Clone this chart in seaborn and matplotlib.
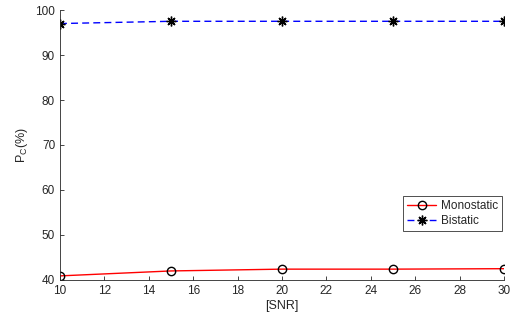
import matplotlib
matplotlib.use("Agg")
import matplotlib.pyplot as plt
import seaborn as sns
import pandas as pd

snr = [10, 15, 20, 25, 30]
monostatic = [40.9, 42.0, 42.4, 42.4, 42.5]
bistatic = [97.0, 97.5, 97.5, 97.5, 97.5]
xticks = [10, 12, 14, 16, 18, 20, 22, 24, 26, 28, 30]
yticks = [40, 50, 60, 70, 80, 90, 100]

sns.set_style("ticks")
plt.rcParams['font.family'] = ['Liberation Sans', 'DejaVu Sans']
plt.rcParams['xtick.direction'] = 'in'
plt.rcParams['ytick.direction'] = 'in'

df = pd.DataFrame({
    "SNR": snr * 2,
    "Pc": monostatic + bistatic,
    "Method": ["Monostatic"] * len(snr) + ["Bistatic"] * len(snr),
})

fig = plt.figure(figsize=(5.17, 3.24), dpi=100)
ax = fig.add_axes([0.116, 0.136, 0.859, 0.833])

sns.lineplot(data=df[df.Method == "Monostatic"], x="SNR", y="Pc", ax=ax,
             color="red", lw=1.0, marker="o", markersize=6,
             markerfacecolor="none", markeredgecolor="black", markeredgewidth=1.0,
             label="Monostatic")
sns.lineplot(data=df[df.Method == "Bistatic"], x="SNR", y="Pc", ax=ax,
             color="blue", lw=1.0, linestyle=(0, (5, 3)), marker=(8, 2, 0), markersize=7,
             markerfacecolor="black", markeredgecolor="black", markeredgewidth=1.0,
             label="Bistatic")

ax.set_xlim(10, 30)
ax.set_ylim(40, 100)
ax.set_xticks(xticks)
ax.set_yticks(yticks)
ax.tick_params(labelsize=8.5, colors="#262626", length=3, width=0.6)
for s in ["left", "bottom"]:
    ax.spines[s].set_color("#262626")
    ax.spines[s].set_linewidth(0.6)
sns.despine(ax=ax)
ax.set_xlabel("[SNR]", fontsize=9, color="#262626", labelpad=2)
ax.set_ylabel("P$_\\mathregular{C}$(%)", fontsize=9, color="#262626", labelpad=4)

leg = ax.legend(loc="upper right", bbox_to_anchor=(0.995, 0.31), fontsize=8.5,
                frameon=True, fancybox=False, edgecolor="black", handlelength=2.5,
                borderpad=0.3, labelspacing=0.3, handletextpad=0.4, borderaxespad=0)
leg.get_frame().set_linewidth(0.6)

fig.savefig("out.png", dpi=100)
